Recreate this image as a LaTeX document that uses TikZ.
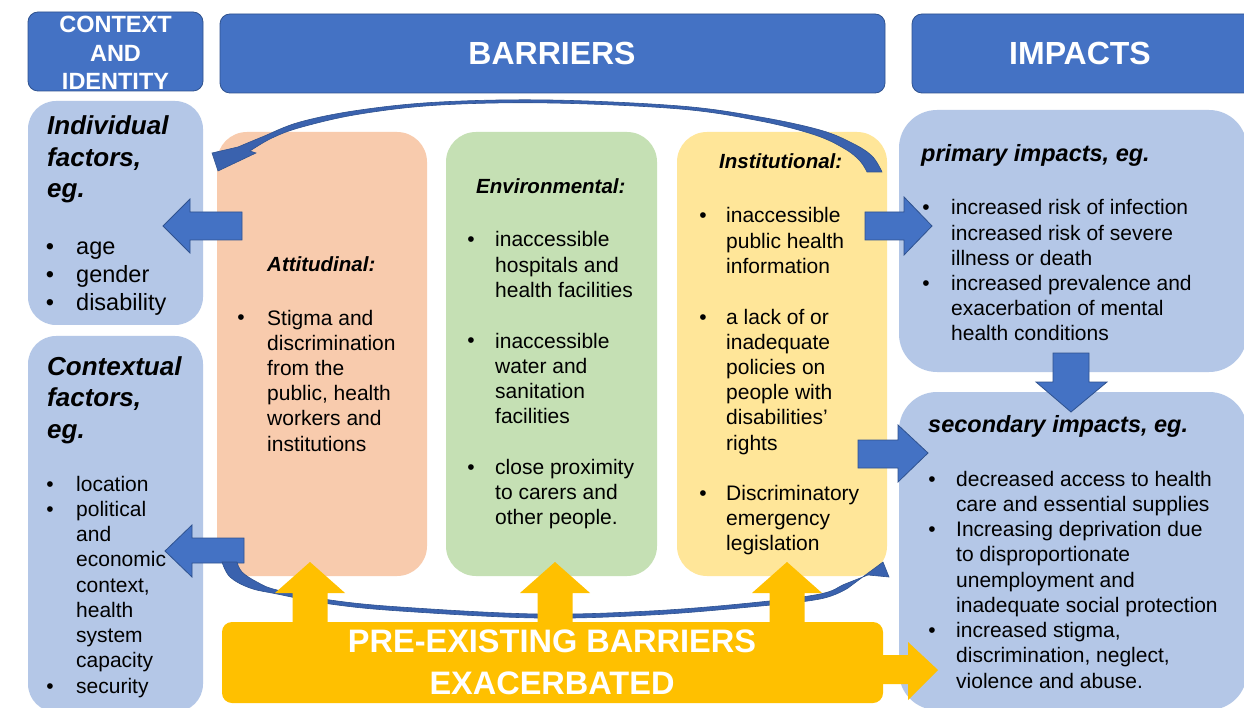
\documentclass[tikz,border=0pt]{standalone}
\usepackage{fontspec}
\setmainfont{Liberation Sans}
\definecolor{hdrblue}{HTML}{4472C4}
\definecolor{hdredge}{HTML}{2F528F}
\definecolor{lblue}{HTML}{B4C7E7}
\definecolor{peach}{HTML}{F8CBAD}
\definecolor{lgreen}{HTML}{C5E0B4}
\definecolor{lyellow}{HTML}{FFE699}
\definecolor{gold}{HTML}{FFC000}
\definecolor{curveblue}{HTML}{3A62AE}
\begin{document}
\begin{tikzpicture}[x=1pt,y=-1pt,
  hdr/.style={fill=hdrblue,draw=hdredge,line width=0.8pt,rounded corners=10pt},
  lbox/.style={fill=lblue,rounded corners=28pt},
  bbox/.style={rounded corners=30pt},
  barrow/.style={fill=hdrblue,draw=hdredge,line width=0.8pt},
  yarrow/.style={fill=gold},
  crv/.style={fill=curveblue,draw=hdredge,line width=0.6pt},
  htxt/.style={inner sep=0pt,anchor=base,align=center,text=white,font=\bfseries\fontsize{32}{38}\selectfont},
  ctxt/.style={inner sep=0pt,anchor=base,align=center,text=white,font=\bfseries\fontsize{23.5}{28.5}\selectfont},
  ptxt/.style={inner sep=0pt,anchor=base,align=center,text=white,font=\bfseries\fontsize{32.5}{42}\selectfont},
  bigti/.style={inner sep=0pt,anchor=base west,align=left,font=\bfseries\itshape\fontsize{26}{31.5}\selectfont},
  midti/.style={inner sep=0pt,anchor=base west,align=left,font=\bfseries\itshape\fontsize{23.5}{28}\selectfont},
  smti/.style={inner sep=0pt,anchor=base west,align=left,font=\bfseries\itshape\fontsize{20.5}{25}\selectfont},
  body/.style={inner sep=0pt,anchor=base west,align=left,font=\fontsize{21}{25.2}\selectfont},
  bodyl/.style={inner sep=0pt,anchor=base west,align=left,font=\fontsize{23.5}{28}\selectfont},
  bul/.style={inner sep=0pt,anchor=base,font=\fontsize{21}{25.2}\selectfont},
  bull/.style={inner sep=0pt,anchor=base,font=\fontsize{23.5}{28}\selectfont}
]
\useasboundingbox (0,0) rectangle (1244,708);
\clip (0,0) rectangle (1244,708);
\fill[white] (0,0) rectangle (1244,708);

% headers
\path[hdr] (28,12) rectangle (203,91);
\path[hdr] (220,14) rectangle (885,93);
\path[hdr] (912,14) rectangle (1256,93);

% left boxes
\path[lbox] (28,101) rectangle (203,325);
\path[lbox] (28,336) rectangle (203,712);

% barrier boxes
\path[bbox,fill=peach] (217,132) rectangle (427,576);
\path[bbox,fill=lgreen] (446,132) rectangle (657,576);
\path[bbox,fill=lyellow] (677,132) rectangle (887,576);

% impacts boxes
\path[lbox,rounded corners=38pt] (899,110) rectangle (1247,372);
\path[lbox,rounded corners=38pt] (899,392) rectangle (1247,710);

% blue block arrows
\path[barrow] (242,212) -- (190,212) -- (190,199) -- (163,226) -- (190,253) -- (190,240) -- (242,240) -- cycle;
\path[barrow] (244,538) -- (192,538) -- (192,525) -- (165,551) -- (192,577) -- (192,563) -- (244,563) -- cycle;
\path[barrow] (865,212) -- (904,212) -- (904,197) -- (932,226) -- (904,255) -- (904,240) -- (865,240) -- cycle;
\path[barrow] (858,440) -- (898,440) -- (898,425) -- (928,453) -- (898,482) -- (898,468) -- (858,468) -- cycle;
\path[barrow] (1053,353) -- (1053,382) -- (1036,382) -- (1071,412) -- (1107,382) -- (1089,382) -- (1089,353) -- cycle;

% top curved arrow
\path[crv] plot[smooth,tension=0.6] coordinates {(882,172) (872,156) (852,143) (820,130) (760,117) (680,106) (550,100) (440,102) (360,110) (300,122) (262,137) (238,147)}
  -- (212,153) -- (218,171) -- (256,153) -- (250,151)
  -- plot[smooth,tension=0.6] coordinates {(250,151) (272,138) (302,127) (360,114) (440,105) (550,103) (680,109) (760,121) (815,135) (845,149) (860,161) (867,172)}
  -- cycle;

% bottom curved arrow
\path[crv] plot[smooth,tension=0.6] coordinates {(222,562) (230,577) (250,588) (277,594) (330,604) (400,611) (537,618) (650,615) (750,607) (820,599) (848,588)}
  -- (860,579) -- (883,562) -- (889,577) -- (868,575)
  -- plot[smooth,tension=0.6] coordinates {(868,575) (845,584) (820,594) (750,603) (650,611) (537,614) (400,607) (330,600) (277,590) (257,582) (242,572) (237,562)}
  -- cycle;

% yellow arrows
\foreach \cx in {310,555,787}
  \path[yarrow] (\cx-17.5,625) -- (\cx-17.5,593) -- (\cx-35,593) -- (\cx,562) -- (\cx+35,593) -- (\cx+17.5,593) -- (\cx+17.5,625) -- cycle;
\path[yarrow] (878,655) -- (908,655) -- (908,642) -- (938,670) -- (908,700) -- (908,684) -- (878,684) -- cycle;
\path[fill=gold,rounded corners=10pt] (222,622) rectangle (883,703);

% header texts (base anchor = baseline of last line)
\node[ctxt] (hctx) at (115.5,90) {CONTEXT\\AND\\IDENTITY};
\node[htxt] (hbar) at (552,64.5) {BARRIERS};
\node[htxt] (himp) at (1080,64.5) {IMPACTS};
\node[ptxt] (pre) at (552,694.5) {PRE-EXISTING BARRIERS\\EXACERBATED};

% individual factors
\node[bigti] (indt) at (47,198) {Individual\\factors,\\eg.};
\node[bull] (ib1) at (50,255) {•};
\node[bull] (ib2) at (50,283) {•};
\node[bull] (ib3) at (50,311) {•};
\node[bodyl] (indl) at (76,311) {age\\gender\\disability};

% contextual factors
\node[bigti] (cont) at (47,438) {Contextual\\factors,\\eg.};
\node[bul] (cb1) at (50,491) {•};
\node[bul] (cb2) at (50,516.25) {•};
\node[bul] (cb3) at (50,693) {•};
\node[body,font=\fontsize{21}{25.25}\selectfont] (conl) at (76,693) {location\\political\\and\\economic\\context,\\health\\system\\capacity\\security};

% attitudinal
\node[smti] (att) at (267,272) {Attitudinal:};
\node[bul] (ab1) at (241,325) {•};
\node[body] (atl) at (267,451) {Stigma and\\discrimination\\from the\\public, health\\workers and\\institutions};

% environmental
\node[smti] (env) at (476,194) {Environmental:};
\node[bul] (eb1) at (471,247) {•};
\node[bul] (eb2) at (471,348) {•};
\node[bul] (eb3) at (471,474) {•};
\node[body] (el1) at (495,297.4) {inaccessible\\hospitals and\\health facilities};
\node[body] (el2) at (495,423.6) {inaccessible\\water and\\sanitation\\facilities};
\node[body] (el3) at (495,524.4) {close proximity\\to carers and\\other people.};

% institutional
\node[smti] (ins) at (719,169) {Institutional:};
\node[bul] (sb1) at (703,223) {•};
\node[bul] (sb2) at (703,324) {•};
\node[bul] (sb3) at (703,500) {•};
\node[body] (sl1) at (726,273.4) {inaccessible\\public health\\information};
\node[body] (sl2) at (726,450) {a lack of or\\inadequate\\policies on\\people with\\disabilities’\\rights};
\node[body] (sl3) at (726,550.4) {Discriminatory\\emergency\\legislation};

% primary impacts
\node[midti] (pri) at (921,162) {primary impacts, eg.};
\node[bul] (pb1) at (926,215) {•};
\node[bul] (pb2) at (926,290.6) {•};
\node[body] (pl) at (951,341) {increased risk of infection\\increased risk of severe\\illness or death\\increased prevalence and\\exacerbation of mental\\health conditions};

% secondary impacts
\node[midti] (sec) at (928,432) {secondary impacts, eg.};
\node[bul] (qb1) at (932,486) {•};
\node[bul] (qb2) at (932,536.5) {•};
\node[bul] (qb3) at (932,637.5) {•};
\node[body,font=\fontsize{21}{25.25}\selectfont] (ql) at (956,688) {decreased access to health\\care and essential supplies\\Increasing deprivation due\\to disproportionate\\unemployment and\\inadequate social protection\\increased stigma,\\discrimination, neglect,\\violence and abuse.};
\end{tikzpicture}
\end{document}
